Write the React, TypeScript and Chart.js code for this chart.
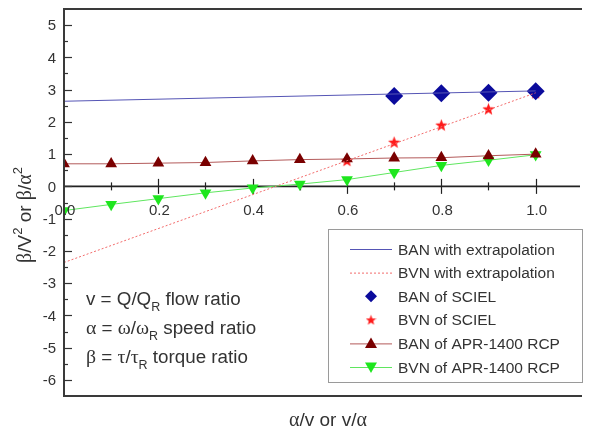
import React, { useEffect, useRef } from 'react';
import { Chart, registerables } from 'chart.js';

Chart.register(...registerables);

// ---- data ----
const aprX = [0, 0.1, 0.2, 0.3, 0.4, 0.5, 0.6, 0.7, 0.8, 0.9, 1.0];
const banApr = [0.70, 0.70, 0.72, 0.74, 0.79, 0.83, 0.85, 0.88, 0.89, 0.95, 1.00];
const bvnApr = [-0.75, -0.56, -0.38, -0.20, -0.05, 0.07, 0.21, 0.43, 0.65, 0.81, 0.98];
const banScielX = [0.7, 0.8, 0.9, 1.0];
const banSciel = [2.80, 2.89, 2.90, 2.95];
const bvnScielX = [0.6, 0.7, 0.8, 0.9, 1.0];
const bvnSciel = [0.80, 1.37, 1.90, 2.40, 2.90];
const extX = [0, 1.0];
const banExt = [2.64, 2.96];
const bvnExt = [-2.36, 2.90];

const yTickValues = [5, 4, 3, 2, 1, 0, -1, -2, -3, -4, -5, -6];
const xTickLabels = ['0.0', '0.2', '0.4', '0.6', '0.8', '1.0'];
const legendLabels = [
  'BAN with extrapolation',
  'BVN with extrapolation',
  'BAN of SCIEL',
  'BVN of SCIEL',
  'BAN of APR-1400 RCP',
  'BVN of APR-1400 RCP',
];

const SANS = '"Liberation Sans", Arial, sans-serif';
const SERIF = '"Liberation Serif", "DejaVu Serif", serif';
const TXT = '#333';

function makeStar(size: number, color: string) {
  const c = document.createElement('canvas');
  c.width = size;
  c.height = size;
  const g = c.getContext('2d')!;
  const cx = size / 2, cy = size / 2 + 0.5, R = size / 2, r = R * 0.42;
  g.beginPath();
  for (let i = 0; i < 10; i++) {
    const a = -Math.PI / 2 + (i * Math.PI) / 5;
    const rr = i % 2 === 0 ? R : r;
    const px = cx + Math.cos(a) * rr, py = cy + Math.sin(a) * rr;
    if (i === 0) g.moveTo(px, py); else g.lineTo(px, py);
  }
  g.closePath();
  g.fillStyle = color;
  g.fill();
  return c;
}

type Run = { t: string; f: string; dy?: number };
function runsWidth(ctx: CanvasRenderingContext2D, runs: Run[]) {
  let w = 0;
  for (const r of runs) { ctx.font = r.f; w += ctx.measureText(r.t).width; }
  return w;
}
function drawRuns(ctx: CanvasRenderingContext2D, x: number, y: number, runs: Run[]) {
  let cx = x;
  ctx.textAlign = 'left';
  ctx.textBaseline = 'alphabetic';
  for (const r of runs) {
    ctx.font = r.f;
    ctx.fillText(r.t, cx, y + (r.dy || 0));
    cx += ctx.measureText(r.t).width;
  }
}

export default function App() {
  const ref = useRef<HTMLCanvasElement | null>(null);

  useEffect(() => {
    const canvas = ref.current!;
    const star = makeStar(13, '#ff1a1a');
    const legendStar = makeStar(11, '#ff1a1a');

    const colors = {
      banLine: '#5555b5',
      bvnLine: '#f26b6b',
      diamond: '#0b0b9c',
      star: '#ff1a1a',
      tri: '#7a0000',
      triLine: '#b35a5a',
      green: '#1ee61e',
      greenLine: '#5fe65f',
    };

    const decor = {
      id: 'decor',
      beforeDatasetsDraw(chart: any) {
        const { ctx, chartArea, scales } = chart;
        const { left, right } = chartArea;
        const x = scales.x, y = scales.y;
        ctx.save();
        const y0 = y.getPixelForValue(0);
        ctx.strokeStyle = '#222';
        ctx.lineWidth = 1.6;
        ctx.beginPath();
        ctx.moveTo(left, y0);
        ctx.lineTo(right, y0);
        ctx.stroke();
        ctx.lineWidth = 1.2;
        for (let i = 1; i <= 10; i++) {
          const px = Math.round(x.getPixelForValue(i / 10)) + 0.5;
          const len = i % 2 === 0 ? 7.5 : 4;
          ctx.beginPath();
          ctx.moveTo(px, y0 - len);
          ctx.lineTo(px, y0 + len);
          ctx.stroke();
        }
        ctx.restore();
      },
      afterDatasetsDraw(chart: any) {
        const { ctx, chartArea, scales } = chart;
        const { left, right, top, bottom } = chartArea;
        const x = scales.x, y = scales.y;
        ctx.save();
        // frame
        ctx.strokeStyle = '#3a3a3a';
        ctx.lineWidth = 2;
        ctx.beginPath();
        ctx.moveTo(right + 2, top);
        ctx.lineTo(left, top);
        ctx.lineTo(left, bottom);
        ctx.lineTo(right + 2, bottom);
        ctx.stroke();
        // y ticks (inward)
        ctx.lineWidth = 1.2;
        ctx.strokeStyle = '#333';
        for (let v = -6; v <= 5.01; v += 0.5) {
          const py = Math.round(y.getPixelForValue(v)) + 0.5;
          const len = Math.abs(v - Math.round(v)) < 0.01 ? 8 : 4;
          ctx.beginPath();
          ctx.moveTo(left, py);
          ctx.lineTo(left + len, py);
          ctx.stroke();
        }
        // y labels
        ctx.fillStyle = TXT;
        ctx.font = `15px ${SANS}`;
        ctx.textAlign = 'right';
        ctx.textBaseline = 'middle';
        for (const v of yTickValues) {
          ctx.fillText(String(v), left - 8, y.getPixelForValue(v) + 1);
        }
        // x labels
        const y0 = y.getPixelForValue(0);
        ctx.textAlign = 'center';
        ctx.textBaseline = 'alphabetic';
        xTickLabels.forEach((lab) => {
          ctx.fillText(lab, x.getPixelForValue(parseFloat(lab)) + 1, y0 + 29);
        });
        // x title
        const f19 = `19px ${SANS}`;
        const g19 = `20px ${SERIF}`;
        const xt: Run[] = [
          { t: 'α', f: g19 }, { t: '/v or v/', f: f19 }, { t: 'α', f: g19 },
        ];
        const xw = runsWidth(ctx, xt);
        drawRuns(ctx, 328 - xw / 2, 426, xt);
        // y title (rotated)
        const sup = `13px ${SANS}`;
        const yt: Run[] = [
          { t: 'β', f: g19 }, { t: '/V', f: f19 }, { t: '2', f: sup, dy: -9 },
          { t: ' or ', f: f19 }, { t: 'β', f: g19 }, { t: '/', f: f19 },
          { t: 'α', f: g19 }, { t: '2', f: sup, dy: -9 },
        ];
        const yw = runsWidth(ctx, yt);
        ctx.save();
        ctx.translate(31, 215);
        ctx.rotate(-Math.PI / 2);
        drawRuns(ctx, -yw / 2, 0, yt);
        ctx.restore();

        // annotations
        const f18 = `18.8px ${SANS}`;
        const g18 = `19.8px ${SERIF}`;
        const sub = `12.5px ${SANS}`;
        const a1: Run[] = [
          { t: 'v = Q/Q', f: f18 }, { t: 'R', f: sub, dy: 6 }, { t: ' flow ratio', f: f18 },
        ];
        const a2: Run[] = [
          { t: 'α', f: g18 }, { t: ' = ', f: f18 }, { t: 'ω', f: g18 }, { t: '/', f: f18 },
          { t: 'ω', f: g18 }, { t: 'R', f: sub, dy: 6 }, { t: ' speed ratio', f: f18 },
        ];
        const a3: Run[] = [
          { t: 'β', f: g18 }, { t: ' = ', f: f18 }, { t: 'τ', f: g18 }, { t: '/', f: f18 },
          { t: 'τ', f: g18 }, { t: 'R', f: sub, dy: 6 }, { t: ' torque ratio', f: f18 },
        ];
        drawRuns(ctx, 86, 305, a1);
        drawRuns(ctx, 86, 334, a2);
        drawRuns(ctx, 86, 363, a3);

        // legend
        const lx = 328.5, ly = 229.5, lw = 254, lh = 153;
        ctx.fillStyle = '#fff';
        ctx.fillRect(lx, ly, lw, lh);
        ctx.strokeStyle = '#9a9a9a';
        ctx.lineWidth = 1;
        ctx.strokeRect(lx, ly, lw, lh);
        const rowY = (i: number) => 249 + i * 23.6;
        const sx0 = 350, sx1 = 392, sxm = 371;
        legendLabels.forEach((lab, i) => {
          const cy = rowY(i);
          ctx.save();
          if (i === 0 || i === 1 || i === 4 || i === 5) {
            ctx.beginPath();
            ctx.lineWidth = 1;
            ctx.strokeStyle = [colors.banLine, colors.bvnLine, '', '', colors.triLine, colors.greenLine][i];
            if (i === 1) ctx.setLineDash([2, 2]);
            ctx.moveTo(sx0, cy + 0.5);
            ctx.lineTo(sx1, cy + 0.5);
            ctx.stroke();
          }
          ctx.restore();
          if (i === 2) {
            ctx.fillStyle = colors.diamond;
            ctx.beginPath();
            ctx.moveTo(sxm, cy - 6);
            ctx.lineTo(sxm + 6, cy);
            ctx.lineTo(sxm, cy + 6);
            ctx.lineTo(sxm - 6, cy);
            ctx.closePath();
            ctx.fill();
          } else if (i === 3) {
            ctx.drawImage(legendStar, sxm - 5.5, cy - 5.5);
          } else if (i === 4) {
            ctx.fillStyle = colors.tri;
            ctx.beginPath();
            ctx.moveTo(sxm, cy - 6);
            ctx.lineTo(sxm + 6, cy + 4.5);
            ctx.lineTo(sxm - 6, cy + 4.5);
            ctx.closePath();
            ctx.fill();
          } else if (i === 5) {
            ctx.fillStyle = colors.green;
            ctx.beginPath();
            ctx.moveTo(sxm, cy + 6);
            ctx.lineTo(sxm + 6, cy - 4.5);
            ctx.lineTo(sxm - 6, cy - 4.5);
            ctx.closePath();
            ctx.fill();
          }
          ctx.fillStyle = TXT;
          ctx.font = `15.5px ${SANS}`;
          ctx.textAlign = 'left';
          ctx.textBaseline = 'alphabetic';
          ctx.fillText(lab, 398, cy + 5.5);
        });
        ctx.restore();
      },
    };

    const pts = (xs: number[], ys: number[]) => xs.map((v, i) => ({ x: v, y: ys[i] }));

    const chart = new Chart(canvas, {
      type: 'scatter',
      data: {
        datasets: [
          {
            label: legendLabels[0],
            data: pts(extX, banExt),
            showLine: true,
            borderColor: colors.banLine,
            borderWidth: 1,
            pointRadius: 0,
          },
          {
            label: legendLabels[1],
            data: pts(extX, bvnExt),
            showLine: true,
            borderColor: colors.bvnLine,
            borderWidth: 1,
            borderDash: [2, 2],
            pointRadius: 0,
          },
          {
            label: legendLabels[4],
            data: pts(aprX, banApr),
            showLine: true,
            borderColor: colors.triLine,
            borderWidth: 1,
            pointStyle: 'triangle',
            pointRadius: 6.8,
            pointBackgroundColor: colors.tri,
            pointBorderColor: colors.tri,
            pointBorderWidth: 0,
          },
          {
            label: legendLabels[5],
            data: pts(aprX, bvnApr),
            showLine: true,
            borderColor: colors.greenLine,
            borderWidth: 1,
            pointStyle: 'triangle',
            rotation: 180,
            pointRadius: 6.8,
            pointBackgroundColor: colors.green,
            pointBorderColor: colors.green,
            pointBorderWidth: 0,
          } as any,
          {
            label: legendLabels[2],
            data: pts(banScielX, banSciel),
            showLine: false,
            pointStyle: 'rectRot',
            pointRadius: 9,
            pointBackgroundColor: colors.diamond,
            pointBorderColor: colors.diamond,
            pointBorderWidth: 0,
          },
          {
            label: legendLabels[3],
            data: pts(bvnScielX, bvnSciel),
            showLine: false,
            pointStyle: star as any,
            pointRadius: 6,
          },
        ],
      },
      options: {
        animation: false,
        responsive: false,
        events: [],
        layout: { padding: { left: 64, top: 8, right: 0, bottom: 36 } },
        plugins: { legend: { display: false }, tooltip: { enabled: false } },
        scales: {
          x: { type: 'linear', min: 0, max: 1.094, display: false },
          y: { type: 'linear', min: -6.5, max: 5.5, display: false },
        },
      },
      plugins: [decor],
    });
    return () => chart.destroy();
  }, []);

  return (
    <div style={{ position: 'fixed', left: 0, top: 0, width: 589, height: 432, background: '#fff' }}>
      <canvas ref={ref} width={589} height={432} style={{ display: 'block' }} />
    </div>
  );
}
